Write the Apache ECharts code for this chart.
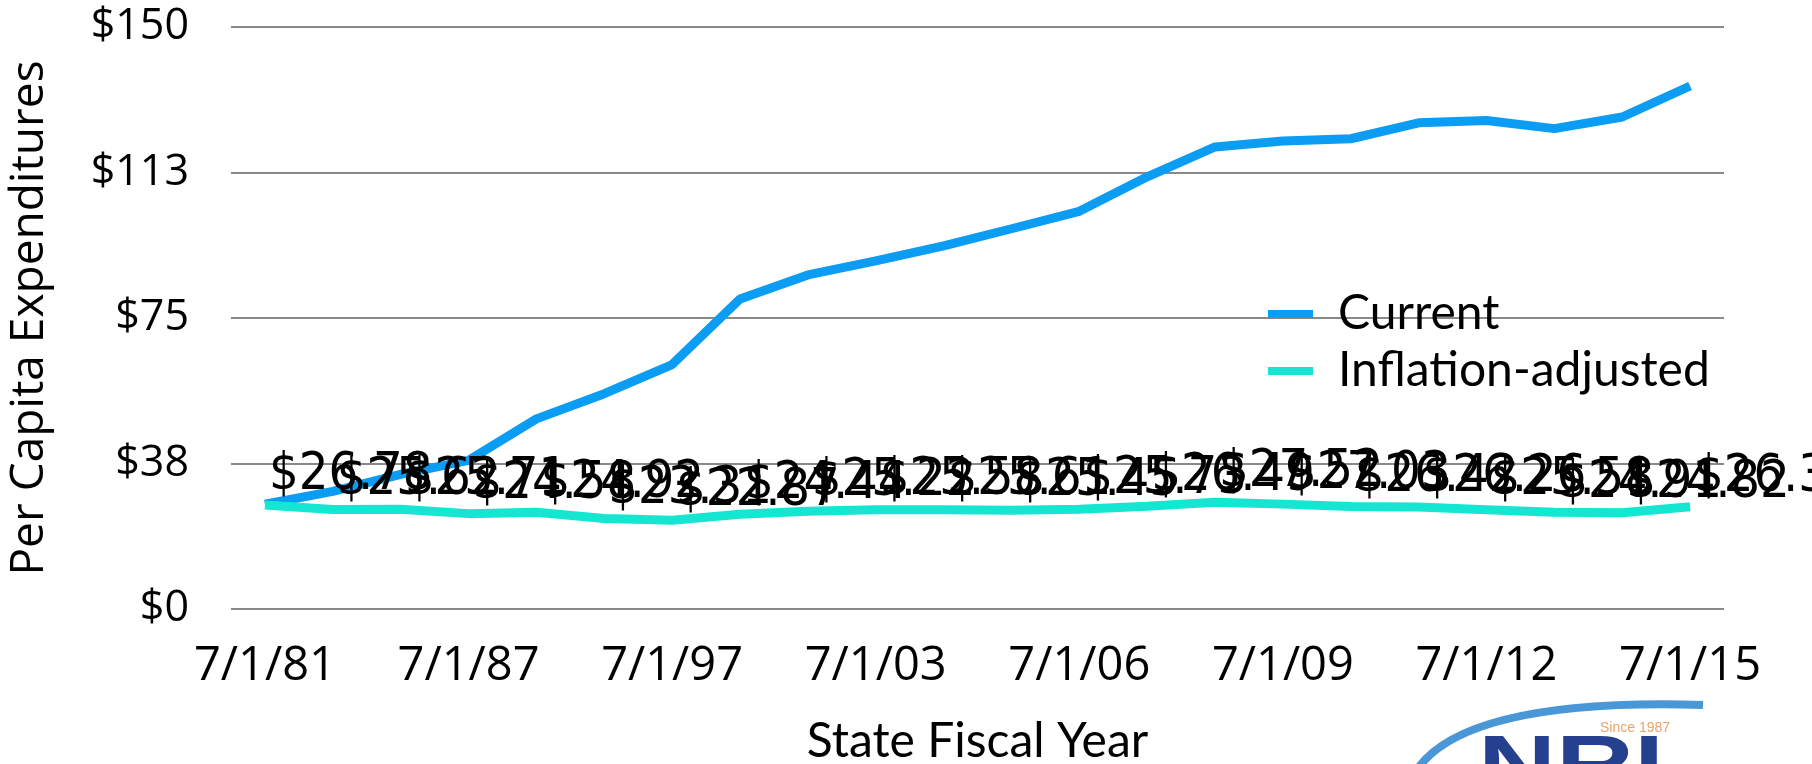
<!DOCTYPE html>
<html>
<head>
<meta charset="utf-8">
<script src="https://cdn.jsdelivr.net/npm/echarts@6/dist/echarts.min.js"></script>
<style>
  html, body { margin: 0; padding: 0; background: #fff; }
  #chart { width: 1812px; height: 764px; }
</style>
</head>
<body>
<div id="chart"></div>
<script>
  // fiscal years (only every 3rd one is labelled on the axis)
  const categories = ['7/1/81', '7/1/83', '7/1/85', '7/1/87', '7/1/89', '7/1/91', '7/1/97', '7/1/99', '7/1/01',
    '7/1/03', '7/1/04', '7/1/05', '7/1/06', '7/1/07', '7/1/08', '7/1/09', '7/1/10', '7/1/11',
    '7/1/12', '7/1/13', '7/1/14', '7/1/15']
  const currentValues = [27.0, 30.3, 34.7, 38.3, 49.0, 55.5, 63.0, 79.9, 86.1, 89.7, 93.6, 98.0,
    102.5, 111.4, 119.1, 120.6, 121.2, 125.3, 125.9, 123.8, 126.8, 134.8]
  const inflationValues = [26.78, 25.62, 25.71, 24.58, 24.92, 23.31, 22.87, 24.44, 25.22, 25.58, 25.61,
    25.45, 25.73, 26.49, 27.52, 27.03, 26.42, 26.26, 25.58, 24.91, 24.82, 26.35]
  const yTicks = { min: 0, max: 150, interval: 37.5 }

  const chart = echarts.init(document.getElementById('chart'))
  chart.setOption({
    animation: false,
    backgroundColor: '#fff',
    color: ['#0b9cf4', '#15e6d1'],
    grid: { left: 231, right: 88, top: 27, bottom: 155, outerBoundsMode: 'none' },
    legend: {
      left: 1263,
      top: 284,
      orient: 'vertical',
      icon: 'rect',
      itemWidth: 45,
      itemHeight: 8,
      itemGap: 7,
      data: ['Current', 'Inflation-adjusted'],
      textStyle: {
        fontFamily: 'Lato',
        fontSize: 48,
        color: '#000',
        lineHeight: 50,
        padding: [0, 0, 0, 20]
      }
    },
    xAxis: {
      type: 'category',
      data: categories,
      name: 'State Fiscal Year',
      nameLocation: 'middle',
      nameGap: 109,
      nameTextStyle: { fontFamily: 'Lato', fontSize: 48, color: '#000' },
      axisLine: { show: false },
      axisTick: { show: false },
      axisLabel: {
        interval: 2,
        margin: 34,
        fontFamily: 'Open Sans',
        fontSize: 47,
        color: '#000'
      }
    },
    yAxis: {
      type: 'value',
      min: yTicks.min,
      max: yTicks.max,
      interval: yTicks.interval,
      name: 'Per Capita Expenditures',
      nameLocation: 'middle',
      nameGap: 178,
      nameTextStyle: { fontFamily: 'Open Sans', fontSize: 46, color: '#000' },
      axisLine: { show: false },
      axisTick: { show: false },
      splitLine: { lineStyle: { color: '#898989', width: 2 } },
      axisLabel: {
        margin: 42,
        fontFamily: 'Open Sans',
        fontSize: 43,
        color: '#000',
        formatter: function (v) { return '$' + Math.round(v) }
      }
    },
    series: [
      {
        name: 'Current',
        type: 'line',
        data: currentValues,
        symbol: 'none',
        lineStyle: { width: 9 }
      },
      {
        name: 'Inflation-adjusted',
        type: 'line',
        data: inflationValues,
        symbol: 'circle',
        symbolSize: 0.5,
        showSymbol: true,
        lineStyle: { width: 9 },
        label: {
          show: true,
          position: 'top',
          align: 'left',
          distance: 3,
          offset: [4, 0],
          fontFamily: "'Liberation Sans Narrow', 'DejaVu Sans Condensed', sans-serif",
          fontSize: 52,
          color: '#000',
          formatter: function (p) { return '$' + p.value.toFixed(2) }
        },
        z: 3
      }
    ],
    graphic: [
      // NRI logo peeking in at the bottom right
      {
        type: 'bezierCurve',
        shape: { x1: 1418, y1: 768, cpx1: 1470, cpy1: 698, x2: 1703, y2: 705 },
        style: { stroke: '#4a97d8', lineWidth: 8, fill: null }
      },
      {
        type: 'text',
        left: 1600,
        top: 721,
        style: { text: 'Since 1987', fontFamily: 'Liberation Sans', fontSize: 14, fill: '#e9a464' }
      },
      {
        type: 'text',
        x: 1478,
        y: 769,
        scaleX: 1.35,
        style: {
          text: 'NRI', fontFamily: 'Liberation Sans', fontWeight: 'bold', fontSize: 80,
          fill: '#25408f', verticalAlign: 'middle'
        }
      }
    ]
  })
  window.addEventListener('resize', function () {
    chart.resize()
  })
</script>
</body>
</html>
